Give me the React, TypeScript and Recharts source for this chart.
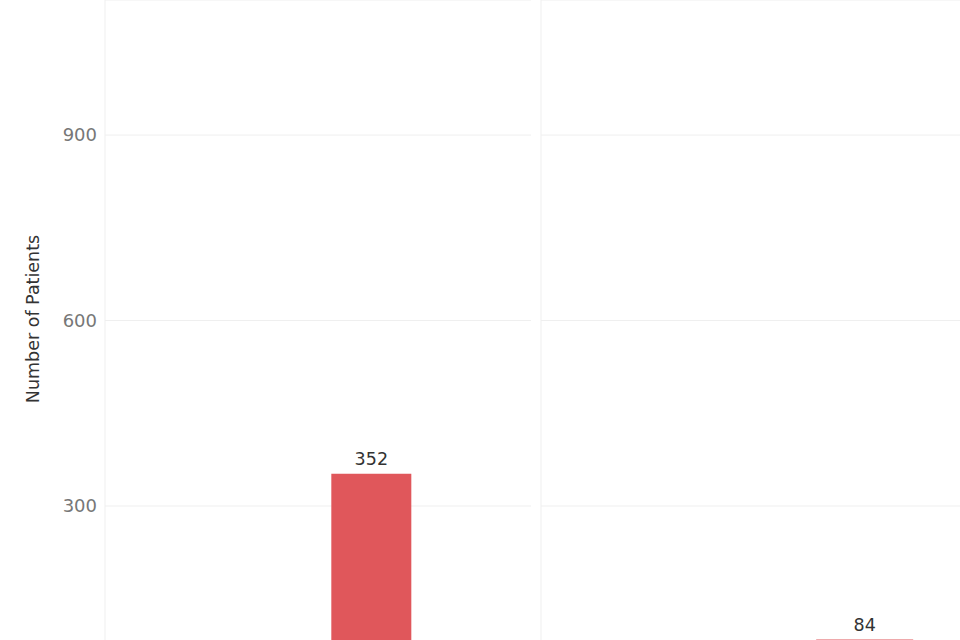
import React from "react";
import {
  BarChart,
  Bar,
  XAxis,
  YAxis,
  CartesianGrid,
  LabelList,
} from "recharts";

// four slots per panel, only the third one rises into view
const leftSlots = ["L1", "L2", "L3", "L4"];
const leftPatients = [null, null, 352, null];
const rightSlots = ["R1", "R2", "R3", "R4"];
const rightPatients = [null, null, 84, null];
const yTicks = [0, 300, 600, 900];
const yTitle = "Number of Patients";

const leftData = leftSlots.map((slot, i) => ({ slot, patients: leftPatients[i] }));
const rightData = rightSlots.map((slot, i) => ({ slot, patients: rightPatients[i] }));

const FONT = "'DejaVu Sans', sans-serif";
const BAR_COLOR = "#e0575b";
const GRID = "#efefef";
const Y_MAX = 1118.4;

function ValueLabel(props: any) {
  const { x, y, width, value } = props;
  if (value == null) return null;
  return (
    <text
      x={x + width / 2}
      y={y - 9}
      textAnchor="middle"
      fill="#333"
      fontSize={17.5}
      fontFamily={FONT}
    >
      {value}
    </text>
  );
}

function AxisTitle() {
  return (
    <text
      x={33}
      y={319}
      transform="rotate(-90 33 319)"
      textAnchor="middle"
      dominantBaseline="central"
      fill="#333"
      fontSize={17.5}
      fontFamily={FONT}
    >
      {yTitle}
    </text>
  );
}

export default function App() {
  return (
    <div
      style={{
        position: "absolute",
        left: 0,
        top: 0,
        width: 960,
        height: 640,
        overflow: "hidden",
        background: "#fff",
      }}
    >
      <div style={{ position: "absolute", left: 0, top: 0 }}>
        <BarChart
          width={536}
          height={700}
          data={leftData}
          margin={{ top: 0, right: 5, left: 0, bottom: 8.5 }}
          barCategoryGap="12.5%"
        >
          <CartesianGrid stroke={GRID} vertical={true} verticalPoints={[105]} />
          <XAxis dataKey="slot" hide />
          <YAxis
            width={105}
            domain={[0, Y_MAX]}
            ticks={yTicks}
            axisLine={false}
            tickLine={false}
            tickSize={0}
            tickMargin={8}
            tick={{ fill: "#777", fontSize: 18, fontFamily: FONT }}
          />
          <Bar dataKey="patients" fill={BAR_COLOR} isAnimationActive={false}>
            <LabelList dataKey="patients" content={<ValueLabel />} />
          </Bar>
          <AxisTitle />
        </BarChart>
      </div>
      <div style={{ position: "absolute", left: 536, top: 0 }}>
        <BarChart
          width={528}
          height={700}
          data={rightData}
          margin={{ top: 0, right: 5, left: 5, bottom: 8.5 }}
          barCategoryGap="12.5%"
        >
          <CartesianGrid stroke={GRID} vertical={true} verticalPoints={[5]} />
          <XAxis dataKey="slot" hide />
          <YAxis hide domain={[0, Y_MAX]} ticks={yTicks} />
          <Bar dataKey="patients" fill={BAR_COLOR} isAnimationActive={false}>
            <LabelList dataKey="patients" content={<ValueLabel />} />
          </Bar>
        </BarChart>
      </div>
    </div>
  );
}
